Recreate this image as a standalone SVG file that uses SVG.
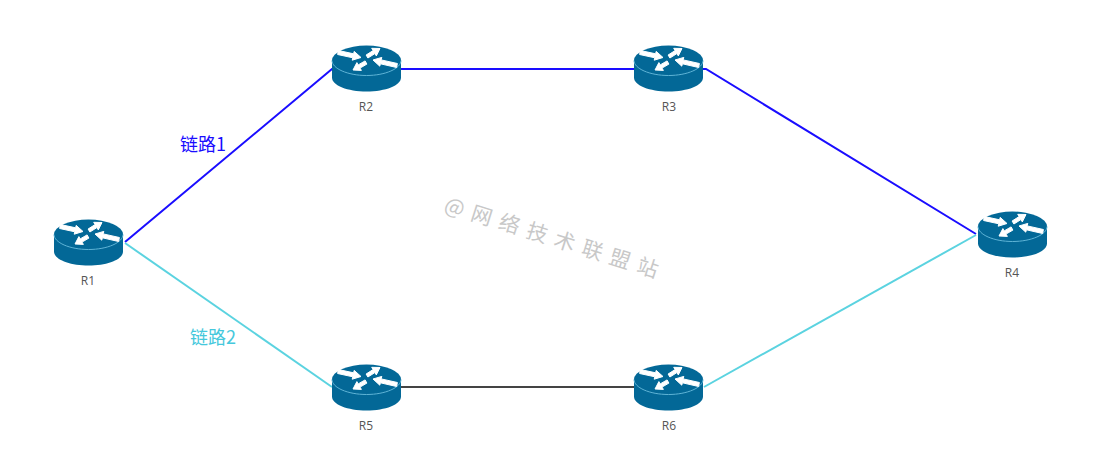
<svg xmlns="http://www.w3.org/2000/svg" width="1107" height="454" viewBox="0 0 1107 454">
<style>
.lbl{font-family:"Open Sans","Liberation Sans","Noto Sans CJK SC",sans-serif;font-size:12px;fill:#555;text-anchor:middle}
.link{fill:none;stroke-width:2}
.big{font-family:"Noto Sans CJK SC","Noto Sans",sans-serif;font-size:18px}
.wm{font-family:"Noto Sans CJK SC","Noto Sans",sans-serif;font-size:21px;fill:#c8c8c8;letter-spacing:8px}
</style>
<defs>
<g id="router">
<path d="M0 15V32C0 40 15.500 46 34.500 46S69 40 69 32V15Z" fill="#036897"/>
<ellipse cx="34.500" cy="15" rx="34.500" ry="15" fill="#036897"/>
<path d="M0 15C0 23 15.500 30 34.500 30S69 23 69 15" fill="none" stroke="#5fb4d6" stroke-width="1"/>
<g fill="#fff" stroke="#fff" stroke-width="1" stroke-linejoin="round">
<path d="M6.400 5L21.600 8.300L22.200 5.900L29 12L20.200 14.700L20.800 12.300L5.600 9Z"/>
<path d="M34.100 9.500L41.100 5.100L39.700 2.800L48 3L44.300 10.400L42.900 8.100L35.900 12.500Z"/>
<path d="M33.100 15.400L26.200 19.400L24.900 17.100L21 24.500L29.400 24.900L28 22.600L34.900 18.600Z"/>
<path d="M65.400 18L49.200 14.400L49.800 11.900L41 14.500L47.800 20.700L48.400 18.300L64.600 22Z"/>
</g>
</g>
</defs>
<g id="connectors">
<path class="link" stroke="#1a0dff" d="M125 242L332 69H634L706 69L976 234"/>
<path class="link" stroke="#5bd3e0" d="M125 243L332 387"/>
<path class="link" stroke="#444" d="M401 387H634"/>
<path class="link" stroke="#5bd3e0" d="M704 387L976 235"/>
</g>
<g id="R1"><use href="#router" x="54" y="219.500"/><text class="lbl" x="88" y="285">R1</text></g>
<g id="R2"><use href="#router" x="332" y="45.500"/><text class="lbl" x="366" y="111">R2</text></g>
<g id="R3"><use href="#router" x="634" y="45.500"/><text class="lbl" x="669" y="111">R3</text></g>
<g id="R4"><use href="#router" x="978" y="211.500"/><text class="lbl" x="1012" y="277">R4</text></g>
<g id="R5"><use href="#router" x="332" y="364.500"/><text class="lbl" x="366" y="430">R5</text></g>
<g id="R6"><use href="#router" x="634" y="364.500"/><text class="lbl" x="669" y="430">R6</text></g>
<text class="big" x="180" y="151" fill="#1a0dff">链路1</text>
<text class="big" x="190" y="344" fill="#45c8dc">链路2</text>
<text class="wm" transform="translate(443 211) rotate(17.500)">@网络技术联盟站</text>
</svg>
